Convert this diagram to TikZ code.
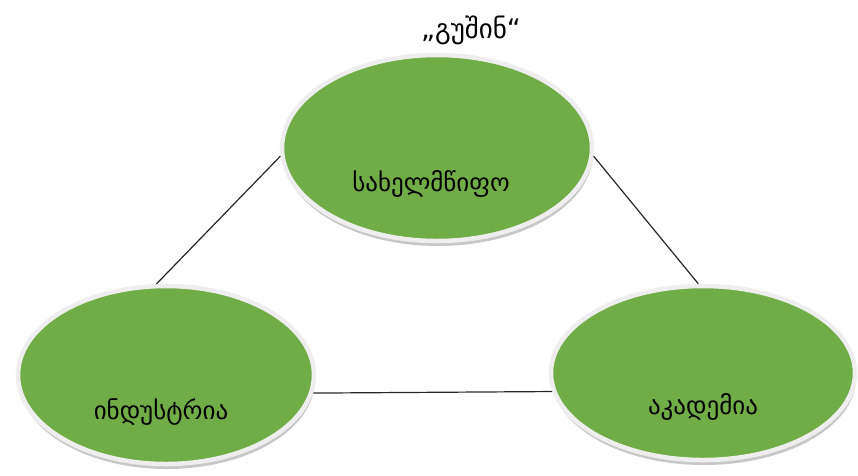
\documentclass[tikz,border=0pt]{standalone}
\usepackage{fontspec}
\usepackage{xcolor}
\usepackage{tikz}
\usetikzlibrary{shapes.geometric,shadows}

\newfontfamily\geofont{DejaVu Sans}
\definecolor{leafgreen}{HTML}{70AD47}
\definecolor{rimgray}{HTML}{EEEEEE}

\begin{document}
\begin{tikzpicture}[x=1pt, y=-1pt,
  blob/.style={ellipse, draw=rimgray, line width=4.5pt, fill=leafgreen, inner sep=0pt,
               drop shadow={shadow xshift=1pt, shadow yshift=-5pt, fill=black!40, opacity=.55}},
  lbl/.style={font=\geofont\fontsize{25}{28}\selectfont, text=black},
  link/.style={draw=black!85, line width=1.2pt}
]
  \useasboundingbox (0,0) rectangle (858,475);

  \node[blob, minimum width=310pt, minimum height=186pt,
        label={[lbl, name=stateTxt, xshift=-6pt, yshift=-36pt]center:სახელმწიფო}] (state) at (437,148) {};
  \node[blob, minimum width=296pt, minimum height=178pt,
        label={[lbl, name=indTxt, xshift=-5pt, yshift=-37pt]center:ინდუსტრია}] (industry) at (166,375) {};
  \node[blob, minimum width=304pt, minimum height=174pt,
        label={[lbl, name=acadTxt, yshift=-34pt]center:აკადემია}] (academy) at (703,373) {};

  \node[lbl, font=\geofont\fontsize{27}{30}\selectfont] (past) at (471,30) {„გუშინ“};

  \draw[link] (state.183) -- (industry.96);
  \draw[link] (state.357) -- (academy.93);
  \draw[link] (industry.353) -- (academy.187);
\end{tikzpicture}
\end{document}
